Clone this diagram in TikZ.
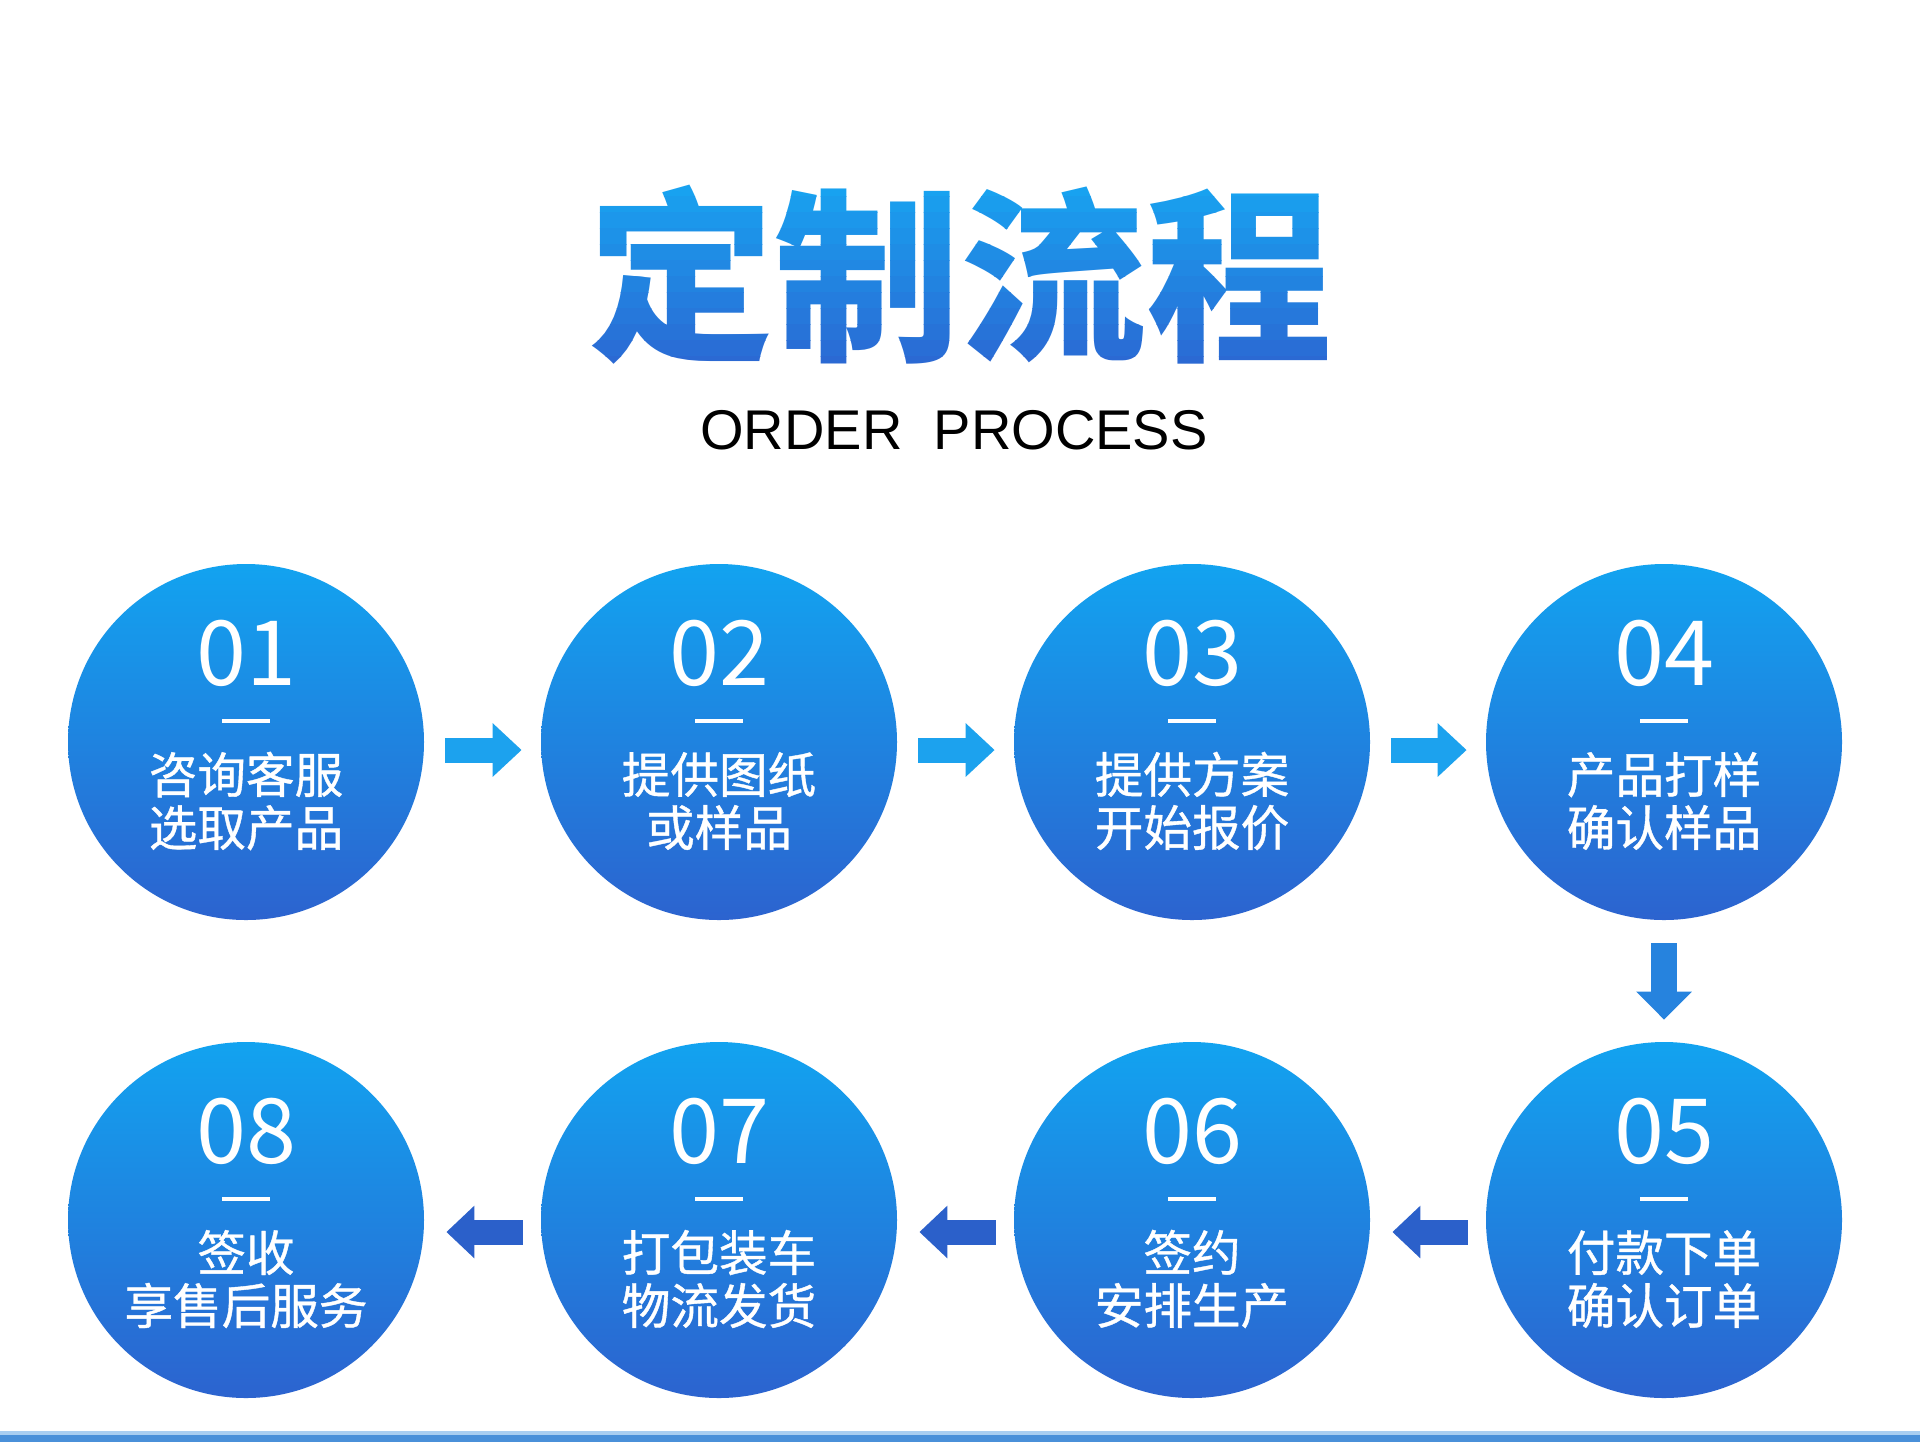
\documentclass[tikz,border=0pt]{standalone}
\usepackage{fontspec}
\setmainfont{Liberation Sans}
\newfontfamily\cjk{Noto Sans CJK SC}
\newfontfamily\cjkmid[FakeBold=0.8]{Noto Sans CJK SC}
\usetikzlibrary{arrows.meta,calc}

\definecolor{balltop}{HTML}{12A3F0}
\definecolor{ballbot}{HTML}{2C63CF}
\definecolor{titletop}{HTML}{18A2F0}
\definecolor{titlebot}{HTML}{2B68D3}
\definecolor{rightblue}{HTML}{1CA2EE}
\definecolor{leftblue}{HTML}{2B60CA}
\definecolor{downblue}{HTML}{2683DE}
\definecolor{bandblue}{HTML}{4A90D9}
\definecolor{bandlight}{HTML}{A9CEF1}

\tikzset{
  titletext/.style={inner sep=0pt, font=\cjk\bfseries\fontsize{93}{93}\selectfont},
  stepball/.style={circle, inner sep=0pt, minimum size=178pt, top color=balltop, bottom color=ballbot, draw=none},
  stepnum/.style={text=white, inner sep=0pt, font=\cjk\fontsize{45}{45}\selectfont},
  steptext/.style={text=white, inner sep=0pt, align=center, font=\cjkmid\fontsize{24.3}{26.5}\selectfont},
  stepdash/.style={draw=white, line width=2pt},
  rarrow/.style={draw=rightblue, line width=12.5pt, -{Triangle[width=26pt,length=14.5pt]}},
  larrow/.style={draw=leftblue, line width=12.5pt, -{Triangle[width=25.5pt,length=14pt]}},
  darrow/.style={draw=downblue, line width=13pt, -{Triangle[width=27pt,length=14pt]}},
}

\begin{document}
\begin{tikzpicture}[x=0.5pt, y=-0.5pt]
			%%%%% START %%%%%
			\useasboundingbox (0, 0) rectangle (1920, 1442);
			\fill[white] (0, 0) rectangle (1920, 1442);
			
			% title, shaded in thin bands
			\foreach \i [evaluate=\i as \pct using int(\i*9)] in {0,...,11}{
				\begin{scope}
					\clip (560, {180+\i*16}) rectangle (1360, {196.5+\i*16});
					\node[titletext, text=titlebot!\pct!titletop] (title\i) at (960, 275) {定制流程};
				\end{scope}
			}
			\node[font=\fontsize{28}{28}\selectfont, inner sep=0pt] (sub) at (954, 430) {ORDER\ \ PROCESS};
			
			% first row
			\node[stepball] (c1) at (246, 742) {};
			\node[stepnum] (n1) at ($(c1)+(0, -89)$) {01};
			\draw[stepdash] ($(c1)+(-24, -21)$) -- ($(c1)+(24, -21)$);
			\node[steptext] (t1) at ($(c1)+(0, 59)$) {咨询客服\\选取产品};
			
			\node[stepball] (c2) at (719, 742) {};
			\node[stepnum] (n2) at ($(c2)+(0, -89)$) {02};
			\draw[stepdash] ($(c2)+(-24, -21)$) -- ($(c2)+(24, -21)$);
			\node[steptext] (t2) at ($(c2)+(0, 59)$) {提供图纸\\或样品};
			
			\node[stepball] (c3) at (1192, 742) {};
			\node[stepnum] (n3) at ($(c3)+(0, -89)$) {03};
			\draw[stepdash] ($(c3)+(-24, -21)$) -- ($(c3)+(24, -21)$);
			\node[steptext] (t3) at ($(c3)+(0, 59)$) {提供方案\\开始报价};
			
			\node[stepball] (c4) at (1664, 742) {};
			\node[stepnum] (n4) at ($(c4)+(0, -89)$) {04};
			\draw[stepdash] ($(c4)+(-24, -21)$) -- ($(c4)+(24, -21)$);
			\node[steptext] (t4) at ($(c4)+(0, 59)$) {产品打样\\确认样品};
			
			% second row
			\node[stepball] (c5) at (1664, 1220) {};
			\node[stepnum] (n5) at ($(c5)+(0, -89)$) {05};
			\draw[stepdash] ($(c5)+(-24, -21)$) -- ($(c5)+(24, -21)$);
			\node[steptext] (t5) at ($(c5)+(0, 59)$) {付款下单\\确认订单};
			
			\node[stepball] (c6) at (1192, 1220) {};
			\node[stepnum] (n6) at ($(c6)+(0, -89)$) {06};
			\draw[stepdash] ($(c6)+(-24, -21)$) -- ($(c6)+(24, -21)$);
			\node[steptext] (t6) at ($(c6)+(0, 59)$) {签约\\安排生产};
			
			\node[stepball] (c7) at (719, 1220) {};
			\node[stepnum] (n7) at ($(c7)+(0, -89)$) {07};
			\draw[stepdash] ($(c7)+(-24, -21)$) -- ($(c7)+(24, -21)$);
			\node[steptext] (t7) at ($(c7)+(0, 59)$) {打包装车\\物流发货};
			
			\node[stepball] (c8) at (246, 1220) {};
			\node[stepnum] (n8) at ($(c8)+(0, -89)$) {08};
			\draw[stepdash] ($(c8)+(-24, -21)$) -- ($(c8)+(24, -21)$);
			\node[steptext] (t8) at ($(c8)+(0, 59)$) {签收\\享售后服务};
			
			% arrows
			\draw[rarrow, shorten <=10.5pt, shorten >=9.5pt] ([yshift=-4pt]c1.east) -- ([yshift=-4pt]c2.west);
			\draw[rarrow, shorten <=10.5pt, shorten >=9.5pt] ([yshift=-4pt]c2.east) -- ([yshift=-4pt]c3.west);
			\draw[rarrow, shorten <=10.5pt, shorten >=9.5pt] ([yshift=-4pt]c3.east) -- ([yshift=-4pt]c4.west);
			\draw[darrow, shorten <=11.5pt, shorten >=11pt] (c4.south) -- (c5.north);
			\draw[larrow, shorten <=9pt, shorten >=11pt] ([yshift=-6pt]c5.west) -- ([yshift=-6pt]c6.east);
			\draw[larrow, shorten <=9pt, shorten >=11pt] ([yshift=-6pt]c6.west) -- ([yshift=-6pt]c7.east);
			\draw[larrow, shorten <=9pt, shorten >=11pt] ([yshift=-6pt]c7.west) -- ([yshift=-6pt]c8.east);
			
			% bottom band
			\fill[bandlight] (0, 1431) rectangle (1920, 1435);
			\fill[bandblue] (0, 1435) rectangle (1920, 1442);
			%%%%% END %%%%%
\end{tikzpicture}
\end{document}
